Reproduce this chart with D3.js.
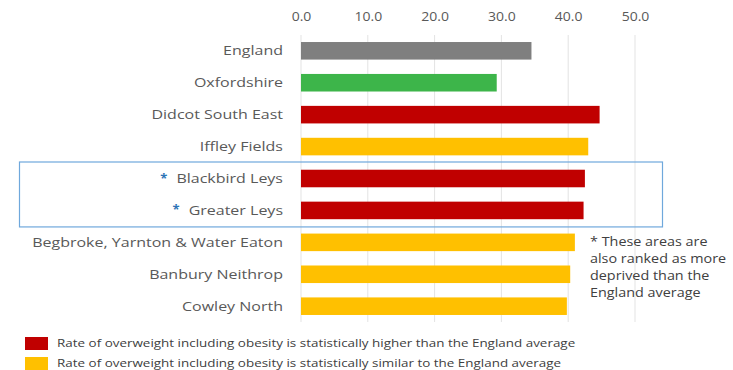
<!DOCTYPE html>
<html>
<head>
<meta charset="utf-8">
<script src="https://cdn.jsdelivr.net/npm/d3@7"></script>
<style>
  body { margin: 0; background: #fff; }
  text { font-family: "Open Sans", sans-serif; }
</style>
</head>
<body>
<script>
// chart data
const areas = ["England", "Oxfordshire", "Didcot South East", "Iffley Fields", "Blackbird Leys",
    "Greater Leys", "Begbroke, Yarnton & Water Eaton", "Banbury Neithrop", "Cowley North"];
const rates = [34.5, 29.3, 44.7, 43.0, 42.5, 42.3, 41.0, 40.3, 39.8];
const status = ["england", "county", "higher", "similar", "higher", "higher", "similar", "similar", "similar"];
const deprived = ["Blackbird Leys", "Greater Leys"];
const ticks = [0, 10, 20, 30, 40, 50];
const legendItems = [
    {key: "higher", label: "Rate of overweight including obesity is statistically higher than the England average"},
    {key: "similar", label: "Rate of overweight including obesity is statistically similar to the England average"}
];
const noteLines = ["* These areas are", "also ranked as more", "deprived than the", "England average"];

function main(){
    const canvasWidth = 733;
    const canvasHeight = 370;
    const stretch = 1.26;   // the source text is rendered wide

    const colours = {england: "#7f7f7f", county: "#3db54a", higher: "#c00000", similar: "#ffc000"};
    const textColour = "#595959";

    const svg = d3.select("body").append("svg")
        .attr("width", canvasWidth)
        .attr("height", canvasHeight);

    const xScale = d3.scaleLinear().domain([0, 50]).range([301, 635]);
    const yScale = d3.scaleBand().domain(areas).range([35, 322]).paddingInner(0.45).paddingOuter(0.22);
    const mid = d => yScale(d) + yScale.bandwidth() / 2;

    // grid
    svg.append("g")
        .selectAll("line")
        .data(ticks)
        .join("line")
        .attr("x1", d => xScale(d)).attr("x2", d => xScale(d))
        .attr("y1", 35).attr("y2", 322)
        .attr("stroke", "#e3e3e3")
        .attr("stroke-width", 1);

    // top axis labels
    const axis = svg.append("g")
        .attr("transform", "translate(0,24)")
        .call(d3.axisTop(xScale).tickValues(ticks).tickFormat(d3.format(".1f")).tickSize(0));
    axis.select(".domain").remove();
    axis.selectAll("text")
        .attr("font-family", "Open Sans, sans-serif")
        .attr("font-size", "12.5px")
        .attr("fill", textColour)
        .attr("transform", "scale(1.12,1)");

    // highlight box
    svg.append("rect")
        .attr("x", 19.5)
        .attr("y", mid("Blackbird Leys") - 16.5)
        .attr("width", 643)
        .attr("height", mid("Greater Leys") - mid("Blackbird Leys") + 33)
        .attr("fill", "none")
        .attr("stroke", "#6fa8dc")
        .attr("stroke-width", 1.2);

    // bars
    svg.append("g")
        .selectAll("rect")
        .data(areas)
        .join("rect")
        .attr("x", xScale(0))
        .attr("y", d => yScale(d))
        .attr("width", (d, i) => xScale(rates[i]) - xScale(0))
        .attr("height", yScale.bandwidth())
        .attr("fill", (d, i) => colours[status[i]]);

    // category labels
    const labels = svg.append("g")
        .selectAll("text")
        .data(areas)
        .join("text")
        .attr("transform", d => "translate(283," + mid(d) + ") scale(" + stretch + ",1)")
        .attr("dy", "0.35em")
        .attr("text-anchor", "end")
        .attr("font-size", "12.7px")
        .attr("fill", textColour)
        .text(d => d);

    labels.filter(d => deprived.includes(d))
        .each(function(d){
            const w = this.getComputedTextLength() * stretch;
            svg.append("text")
                .attr("x", 283 - w - 9)
                .attr("y", mid(d) + 4)
                .attr("text-anchor", "end")
                .attr("font-size", "13px")
                .attr("font-weight", "bold")
                .attr("fill", "#2e75b6")
                .text("*");
        });

    // footnote
    svg.append("g")
        .selectAll("text")
        .data(noteLines)
        .join("text")
        .attr("transform", (d, i) => "translate(590," + (246 + i * 17) + ") scale(1.15,1)")
        .attr("font-size", "12.5px")
        .attr("fill", "#404040")
        .text(d => d);

    // legend
    const legend = svg.append("g")
        .selectAll("g")
        .data(legendItems)
        .join("g")
        .attr("transform", (d, i) => "translate(25," + (337 + i * 20) + ")");
    legend.append("rect")
        .attr("width", 23).attr("height", 13)
        .attr("fill", d => colours[d.key]);
    legend.append("text")
        .attr("transform", "translate(32,10) scale(1.28,1)")
        .attr("font-size", "10.5px")
        .attr("fill", "#404040")
        .text(d => d.label);
}
main();
</script>
</body>
</html>
